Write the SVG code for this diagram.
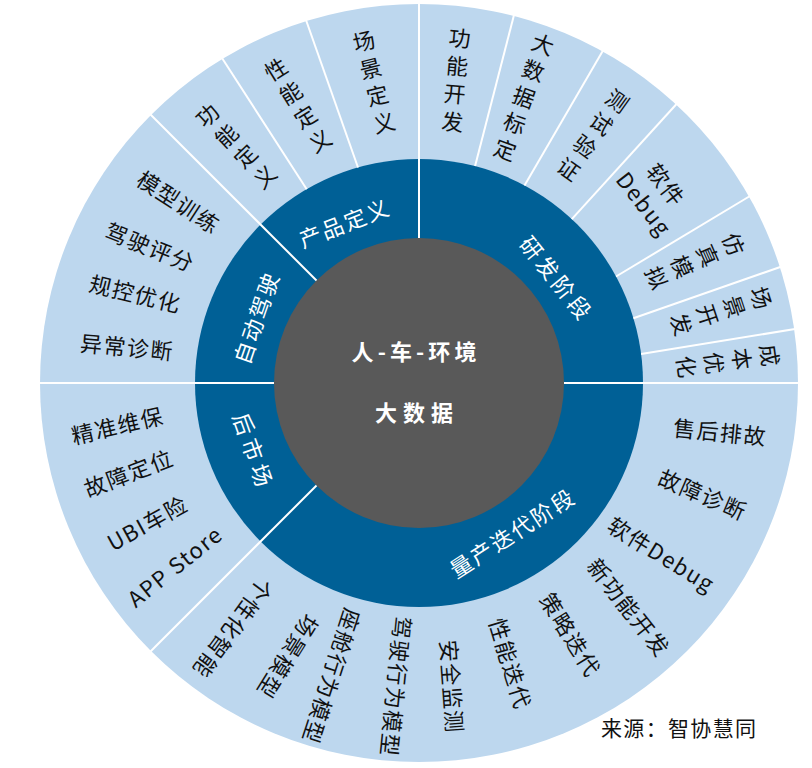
<svg xmlns="http://www.w3.org/2000/svg" width="812" height="768" viewBox="0 0 812 768">
<style>
text{font-family:"Noto Sans CJK SC","Noto Sans",sans-serif;text-anchor:middle;dominant-baseline:central}
.o{font-size:22px;fill:#111;letter-spacing:1.5px}
.v{font-size:22px;fill:#111;writing-mode:vertical-rl;letter-spacing:6px}
.w{font-size:22px;fill:#fff;letter-spacing:2px}
.c{font-size:22px;fill:#fff;font-weight:bold}
.div line{stroke:#fff;stroke-width:2}
</style>
<rect width="812" height="768" fill="#fff"/>
<g id="rings">
<circle cx="419" cy="383" r="379" fill="#BDD7EE"/>
<circle cx="419" cy="383" r="224" fill="#006096"/>
<circle cx="419" cy="383" r="145" fill="#595959"/>
</g>
<g id="dividers" class="div">
<line x1="419" y1="238" x2="419" y2="2"/>
<line x1="564" y1="383" x2="800" y2="383"/>
<line x1="274" y1="383" x2="38" y2="383"/>
<line x1="316.5" y1="280.5" x2="150" y2="114"/>
<line x1="316.5" y1="485.5" x2="150" y2="652"/>
<line x1="358" y1="167.5" x2="306" y2="20"/>
<line x1="306.7" y1="189.2" x2="222" y2="58"/>
<line x1="475.1" y1="166.1" x2="514" y2="15"/>
<line x1="524.5" y1="185.4" x2="603" y2="50.5"/>
<line x1="571.8" y1="219.2" x2="677" y2="103.5"/>
<line x1="616" y1="276.5" x2="750" y2="196"/>
<line x1="633.4" y1="318.3" x2="781" y2="266.7"/>
<line x1="641.1" y1="354.1" x2="795" y2="329"/>
</g>
<g id="hub">
<text class="c" x="414" y="350" textLength="125" lengthAdjust="spacing">人-车-环境</text>
<text class="c" x="414" y="411" font-size="23" textLength="78" lengthAdjust="spacing">大数据</text>
</g>
<g id="product-definition">
<text class="w" transform="translate(344,221.7) rotate(-21.3)">产品定义</text>
<text class="v" y="3" transform="translate(374,82) rotate(-13.9)">场景定义</text>
<text class="v" y="3" transform="translate(298,105) rotate(-31.7)">性能定义</text>
<text class="v" y="3" transform="translate(236,146) rotate(-43.4)">功能定义</text>
</g>
<g id="autonomous-driving">
<text class="w" transform="translate(255,317.3) rotate(-71.1)">自动驾驶</text>
<text class="o" transform="translate(179.5,201) rotate(33)">模型训练</text>
<text class="o" transform="translate(150.7,245.7) rotate(21.8)">驾驶评分</text>
<text class="o" transform="translate(135.7,292.3) rotate(13.7)">规控优化</text>
<text class="o" transform="translate(127.3,345.7) rotate(5.4)">异常诊断</text>
</g>
<g id="aftermarket">
<text class="w" x="2.5" transform="translate(254,449) rotate(70.5)" style="letter-spacing:5px">后市场</text>
<text class="o" transform="translate(117.3,424) rotate(-13.1)">精准维保</text>
<text class="o" transform="translate(128.3,471.7) rotate(-20.9)">故障定位</text>
<text class="o" transform="translate(146.7,521.7) rotate(-28.9)">UBI车险</text>
<text class="o" transform="translate(174,565) rotate(-38.7)">APP Store</text>
</g>
<g id="mass-production">
<text class="w" transform="translate(511.7,531.7) rotate(-32.8)">量产迭代阶段</text>
<text class="o" transform="translate(234.2,629.2) rotate(126.3)">个性化智能</text>
<text class="o" transform="translate(289,657.5) rotate(122)">场景模型</text>
<text class="o" transform="translate(333,677) rotate(108)">座舱行为模型</text>
<text class="o" transform="translate(397.5,687) rotate(95.8)">驾驶行为模型</text>
<text class="o" transform="translate(453.3,686.7) rotate(85.8)">安全监测</text>
<text class="o" transform="translate(511.7,663.3) rotate(73.2)">性能迭代</text>
<text class="o" transform="translate(571.7,634) rotate(58.4)">策略迭代</text>
<text class="o" transform="translate(630,606.7) rotate(51.6)">新功能开发</text>
<text class="o" transform="translate(662.3,553.3) rotate(31.6)">软件Debug</text>
<text class="o" transform="translate(703.3,493.3) rotate(23.2)">故障诊断</text>
<text class="o" transform="translate(720.3,430.7) rotate(5.6)">售后排故</text>
</g>
<g id="rd-stage">
<text class="w" x="1.7" transform="translate(556.7,276.7) rotate(51.1)" style="letter-spacing:3.5px">研发阶段</text>
<text class="v" y="3" transform="translate(456,80) rotate(5)">功能开发</text>
<text class="v" y="3" transform="translate(524,97) rotate(19.7)">大数据标定</text>
<text class="v" y="3" transform="translate(593,135) rotate(35.5)">测试验证</text>
<g transform="translate(655.8,192.9) rotate(52)">
<text class="o" x="0" y="-14.5">软件</text>
<text class="o" x="1.7" y="14.5">Debug</text>
</g>
<text class="v" y="3" transform="translate(695,261) rotate(66.4)">仿真模拟</text>
<text class="v" y="3" transform="translate(721,311) rotate(71.6)">场景开发</text>
<text class="v" y="3" transform="translate(728,361) rotate(82)">成本优化</text>
</g>
<g id="source">
<text x="601" y="727" style="text-anchor:start;font-size:21px;fill:#111" textLength="155" lengthAdjust="spacing">来源：智协慧同</text>
</g>
</svg>
